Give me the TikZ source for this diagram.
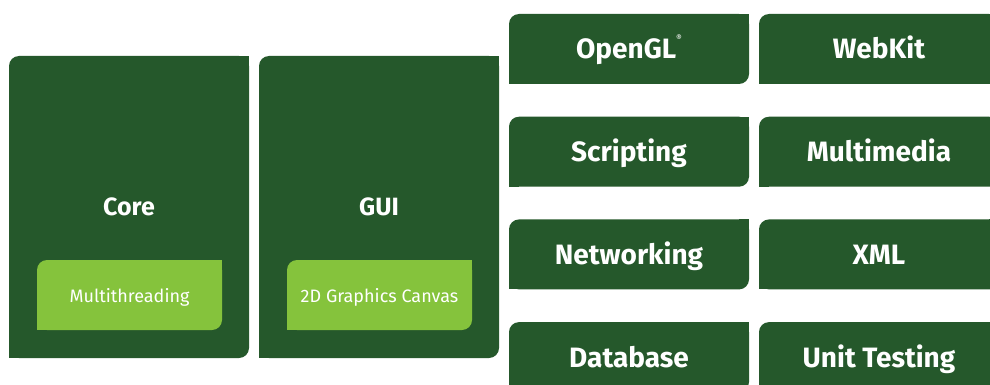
\documentclass[tikz,border=0pt]{standalone}
\usepackage{fontspec}
\setmainfont{Fira Sans}
\usetikzlibrary{positioning}

\definecolor{qtdark}{RGB}{37,88,43}
\definecolor{qtlight}{RGB}{133,195,60}

\tikzset{
  tile/.style={fill=qtdark},
  subtile/.style={fill=qtlight},
  biglabel/.style={text=white, anchor=base, inner sep=0pt,
    font=\bfseries\fontsize{28}{30}\selectfont},
  midlabel/.style={text=white, anchor=base, inner sep=0pt,
    font=\bfseries\fontsize{25}{27}\selectfont},
  smalllabel/.style={text=white, anchor=base, inner sep=0pt,
    font=\fontsize{18}{20}\selectfont}
}

\begin{document}
\begin{tikzpicture}[x=1pt,y=-1pt]
    \useasboundingbox (0,0) rectangle (990,385);
    \fill[white] (0,0) rectangle (990,385);
    \clip (0,0) rectangle (990,385);

    % core and gui blocks
    \foreach \name/\txt/\sub/\subtxt/\xa in {core/Core/mt/Multithreading/9,
        gui/GUI/canvas/2D Graphics Canvas/259} {
      \fill[tile, rounded corners=10] (\xa,56) rectangle ++(240,302);
      \fill[tile] (\xa+230,56) rectangle ++(10,10);
      \fill[tile] (\xa,348) rectangle ++(10,10);
      \node[midlabel] (\name) at (\xa+120,215) {\txt};

      \fill[subtile, rounded corners=10] (\xa+28,260) rectangle ++(185,70);
      \fill[subtile] (\xa+203,260) rectangle ++(10,10);
      \fill[subtile] (\xa+28,320) rectangle ++(10,10);
      \node[smalllabel] (\sub) at (\xa+120.5,302) {\subtxt};
    }

    % module grid
    \foreach \name/\txt/\col/\row in {
        opengl/OpenGL\raisebox{1.2ex}{\fontsize{9}{9}\mdseries\textregistered}/0/0,
        webkit/WebKit/1/0,
        scripting/Scripting/0/1, multimedia/Multimedia/1/1,
        networking/Networking/0/2, xml/XML/1/2,
        database/Database/0/3, unittest/Unit Testing/1/3} {
      \pgfmathsetmacro{\xa}{509+250*\col}
      \pgfmathsetmacro{\ya}{14+102.7*\row}
      \fill[tile, rounded corners=10] (\xa,\ya) rectangle ++(240,70);
      \fill[tile] (\xa+230,\ya) rectangle ++(10,10);
      \fill[tile] (\xa,\ya+60) rectangle ++(10,10);
      \node[biglabel] (\name) at (\xa+120,\ya+45) {\txt};
    }
\end{tikzpicture}
\end{document}
